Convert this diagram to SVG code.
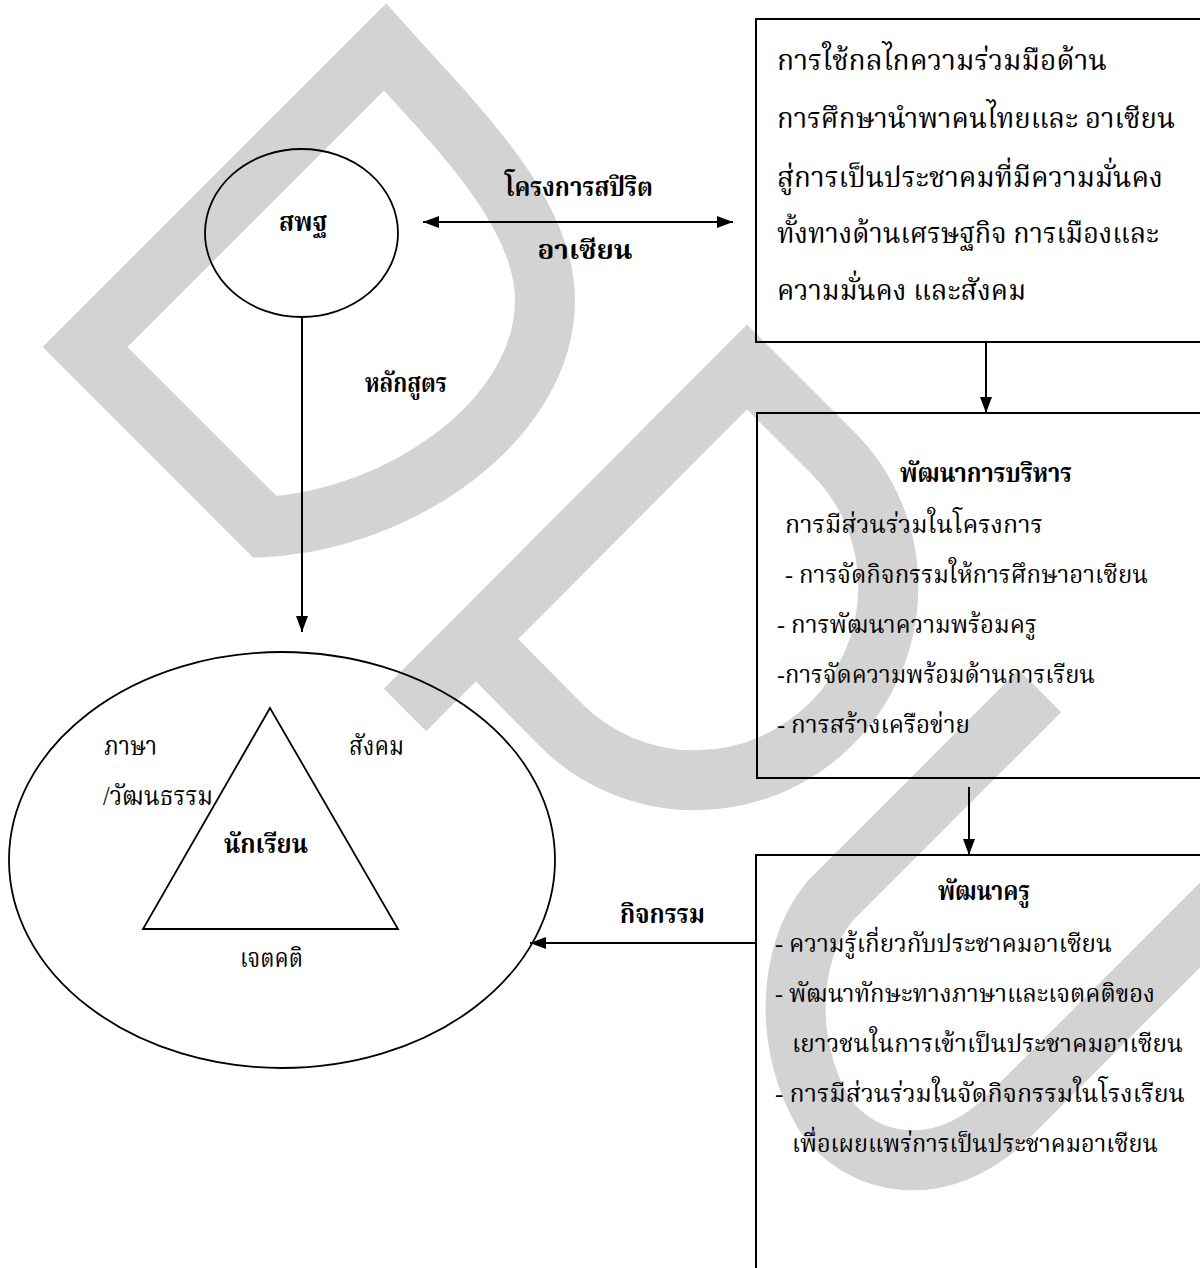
<svg xmlns="http://www.w3.org/2000/svg" width="1200" height="1268" viewBox="0 0 1200 1268">
<style>
  .wm { fill: none; stroke: #d3d3d3; stroke-width: 60; stroke-linejoin: miter; stroke-linecap: butt; }
  .ln { fill: none; stroke: #000; stroke-width: 2; }
  .sh { fill: none; stroke: #000; stroke-width: 1.8; }
  .t { font-family: "Liberation Serif", "Noto Serif Thai", "Noto Sans Thai", "Noto Sans", serif; font-size: 24px; fill: #000; }
  .big { font-size: 28px; }
  .lbl { font-size: 27px; }
  .b { font-weight: bold; font-size: 27px; }
</style>
<defs>
  <marker id="ah" viewBox="0 0 16 12" refX="16" refY="6" markerWidth="16" markerHeight="12" markerUnits="userSpaceOnUse" orient="auto-start-reverse">
    <path d="M0,0 L16,6 L0,12 Z" fill="#000"/>
  </marker>
</defs>
<rect width="1200" height="1268" fill="#fff"/>
<g id="watermark">
  <path class="wm" d="M265,527 L85,347 L385,47 C450,120 545,210 545,300 C545,420 400,520 265,527 Z"/>
  <path class="wm" d="M405,710 L747,367 L833,453 A190,192 45 0 1 561,725 L476,639"/>
  <path class="wm" d="M1040,691 L830,901 C785,955 785,1050 825,1115 C860,1165 940,1185 1010,1115 L1240,885"/>
</g>
<g id="connectors">
  <line class="ln" x1="302" y1="317" x2="302" y2="632" marker-end="url(#ah)"/>
  <line class="ln" x1="423" y1="222" x2="733" y2="222" marker-start="url(#ah)" marker-end="url(#ah)"/>
  <line class="ln" x1="986" y1="342" x2="986" y2="413" marker-end="url(#ah)"/>
  <line class="ln" x1="969" y1="787" x2="969" y2="855" marker-end="url(#ah)"/>
  <line class="ln" x1="757" y1="943" x2="530" y2="943" marker-end="url(#ah)"/>
  <text class="t b" x="579" y="196" text-anchor="middle" textLength="148" lengthAdjust="spacingAndGlyphs">โครงการสปิริต</text>
  <text class="t b" x="585" y="259" text-anchor="middle" textLength="95" lengthAdjust="spacingAndGlyphs">อาเซียน</text>
  <text class="t b" x="365" y="392" textLength="82" lengthAdjust="spacingAndGlyphs">หลักสูตร</text>
  <text class="t b" x="620" y="923" textLength="85" lengthAdjust="spacingAndGlyphs">กิจกรรม</text>
</g>
<g id="node-spt">
  <ellipse class="sh" cx="301.5" cy="233" rx="96.5" ry="84"/>
  <text class="t b" x="279" y="231" textLength="48" lengthAdjust="spacingAndGlyphs">สพฐ</text>
</g>
<g id="node-students">
  <ellipse class="sh" cx="282" cy="860" rx="273" ry="208"/>
  <polygon class="sh" points="270,708 143,929 398,929"/>
  <text class="t lbl" x="104" y="755" textLength="53" lengthAdjust="spacingAndGlyphs">ภาษา</text>
  <text class="t lbl" x="103" y="805" textLength="110" lengthAdjust="spacingAndGlyphs">/วัฒนธรรม</text>
  <text class="t lbl" x="349" y="755" textLength="55" lengthAdjust="spacingAndGlyphs">สังคม</text>
  <text class="t b" x="224" y="853" textLength="84" lengthAdjust="spacingAndGlyphs">นักเรียน</text>
  <text class="t lbl" x="240" y="967" textLength="63" lengthAdjust="spacingAndGlyphs">เจตคติ</text>
</g>
<g id="node-box1">
  <rect class="ln" x="756" y="19" width="460" height="323"/>
  <text class="t big" x="777" y="70" textLength="330" lengthAdjust="spacingAndGlyphs">การใช้กลไกความร่วมมือด้าน</text>
  <text class="t big" x="777" y="128" textLength="398" lengthAdjust="spacingAndGlyphs">การศึกษานำพาคนไทยและ อาเซียน</text>
  <text class="t big" x="777" y="187" textLength="386" lengthAdjust="spacingAndGlyphs">สู่การเป็นประชาคมที่มีความมั่นคง</text>
  <text class="t big" x="777" y="243" textLength="382" lengthAdjust="spacingAndGlyphs">ทั้งทางด้านเศรษฐกิจ การเมืองและ</text>
  <text class="t big" x="777" y="300" textLength="249" lengthAdjust="spacingAndGlyphs">ความมั่นคง และสังคม</text>
</g>
<g id="node-box2">
  <rect class="ln" x="757" y="413" width="460" height="365"/>
  <text class="t b" x="900" y="482" textLength="172" lengthAdjust="spacingAndGlyphs">พัฒนาการบริหาร</text>
  <text class="t" x="785" y="533" textLength="258" lengthAdjust="spacingAndGlyphs">การมีส่วนร่วมในโครงการ</text>
  <text class="t" x="785" y="583" textLength="363" lengthAdjust="spacingAndGlyphs">- การจัดกิจกรรมให้การศึกษาอาเซียน</text>
  <text class="t" x="777" y="633" textLength="260" lengthAdjust="spacingAndGlyphs">- การพัฒนาความพร้อมครู</text>
  <text class="t" x="777" y="683" textLength="318" lengthAdjust="spacingAndGlyphs">-การจัดความพร้อมด้านการเรียน</text>
  <text class="t" x="777" y="733" textLength="193" lengthAdjust="spacingAndGlyphs">- การสร้างเครือข่าย</text>
</g>
<g id="node-box3">
  <rect class="ln" x="756" y="855" width="460" height="430"/>
  <text class="t b" x="938" y="900" textLength="92" lengthAdjust="spacingAndGlyphs">พัฒนาครู</text>
  <text class="t" x="775" y="952" textLength="337" lengthAdjust="spacingAndGlyphs">- ความรู้เกี่ยวกับประชาคมอาเซียน</text>
  <text class="t" x="775" y="1002" textLength="380" lengthAdjust="spacingAndGlyphs">- พัฒนาทักษะทางภาษาและเจตคติของ</text>
  <text class="t" x="792" y="1052" textLength="391" lengthAdjust="spacingAndGlyphs">เยาวชนในการเข้าเป็นประชาคมอาเซียน</text>
  <text class="t" x="775" y="1102" textLength="410" lengthAdjust="spacingAndGlyphs">- การมีส่วนร่วมในจัดกิจกรรมในโรงเรียน</text>
  <text class="t" x="792" y="1152" textLength="366" lengthAdjust="spacingAndGlyphs">เพื่อเผยแพร่การเป็นประชาคมอาเซียน</text>
</g>
</svg>
